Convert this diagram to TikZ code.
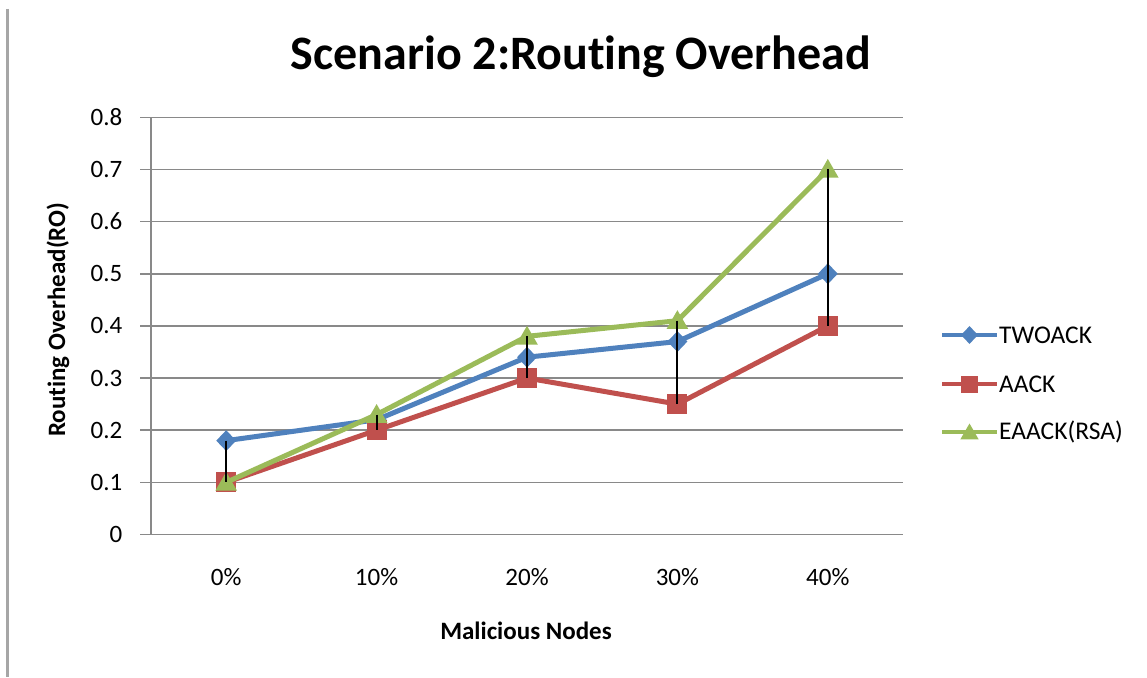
\documentclass[tikz,border=0pt]{standalone}
\usepackage{fontspec}
\setmainfont[RawFeature={-liga;-clig;-calt;-dlig}]{Carlito}
\usetikzlibrary{shapes.geometric}
\definecolor{sblue}{HTML}{4F81BD}
\definecolor{sred}{HTML}{C0504D}
\definecolor{sgreen}{HTML}{9BBB59}
\definecolor{gridgray}{HTML}{898989}
\definecolor{framegray}{HTML}{A6A6A6}
\tikzset{
  grid line/.style={draw=gridgray, line width=1.6pt},
  series/.style={line width=5pt, line join=round, line cap=round},
  dia/.style={shape=diamond, fill=sblue, minimum width=20pt, minimum height=21pt, inner sep=0pt},
  sq/.style={shape=rectangle, fill=sred, minimum size=20pt, inner sep=0pt},
  tri/.style={shape=regular polygon, regular polygon sides=3, fill=sgreen, minimum size=25pt, inner sep=0pt},
  ldia/.style={dia, minimum width=17pt, minimum height=18pt},
  lsq/.style={sq, minimum size=17pt},
  ltri/.style={tri, minimum size=21pt},
  hilo/.style={draw=black, line width=2pt},
  ticklab/.style={font=\fontsize{25}{30}\selectfont, text=black, inner sep=0pt},
  axlab/.style={font=\fontsize{25}{30}\selectfont\bfseries, text=black, inner sep=0pt},
  legtext/.style={font=\fontsize{25.5}{30}\selectfont, text=black, inner sep=0pt, anchor=west},
}
\begin{document}
\begin{tikzpicture}[x=1pt,y=-1pt]
\useasboundingbox[fill=white] (0,0) rectangle (1147,677);
% left frame line
\draw[draw=framegray, line width=2.5pt] (7.5,9) -- (7.5,677);
% title
\node[font=\fontsize{48}{56}\selectfont\bfseries, inner sep=0pt] (title) at (581,57) {Scenario 2:Rout\kern0pt ing Overhead};
% gridlines and y labels
\foreach \v/\lab in {0/0,1/0.1,2/0.2,3/0.3,4/0.4,5/0.5,6/0.6,7/0.7,8/0.8}{
  \draw[grid line] (140,{534.5-52.15*\v}) -- (903,{534.5-52.15*\v});
  \node[ticklab, anchor=east] (yl\v) at (122.5,{534.5-52.15*\v}) {\lab};
}
% y axis
\draw[grid line] (151,{534.5-52.15*8}) -- (151,534.5);
% x labels
\foreach \i/\lab in {0/0\%,1/10\%,2/20\%,3/30\%,4/40\%}{
  \node[ticklab] (xl\i) at ({226.2+150.4*\i},577) {\lab};
}
\node[axlab] (xtitle) at (526,631) {Malicious Nodes};
\node[axlab, rotate=90] (ytitle) at (58,320) {Rout\kern0pt ing Overhead(RO)};
% data coordinates
\foreach \i/\a/\b/\c in {0/0.18/0.1/0.1, 1/0.22/0.2/0.23, 2/0.34/0.3/0.38, 3/0.37/0.25/0.41, 4/0.5/0.4/0.7}{
  \coordinate (t\i) at ({226.2+150.4*\i},{534.5-521.5*\a});
  \coordinate (a\i) at ({226.2+150.4*\i},{534.5-521.5*\b});
  \coordinate (e\i) at ({226.2+150.4*\i},{534.5-521.5*\c});
}
% TWOACK
\draw[series, sblue] (t0) -- (t1) -- (t2) -- (t3) -- (t4);
\foreach \i in {0,...,4}{ \node[dia] (mt\i) at (t\i) {}; }
% AACK
\draw[series, sred] (a0) -- (a1) -- (a2) -- (a3) -- (a4);
\foreach \i in {0,...,4}{ \node[sq] (ma\i) at (a\i) {}; }
% EAACK(RSA)
\draw[series, sgreen] (e0) -- (e1) -- (e2) -- (e3) -- (e4);
\foreach \i in {0,...,4}{ \node[tri, yshift=-2pt] (me\i) at (e\i) {}; }
% high-low lines
\draw[hilo] (t0) -- (a0);
\draw[hilo] (e1) -- (a1);
\draw[hilo] (e2) -- (a2);
\draw[hilo] (e3) -- (a3);
\draw[hilo] (e4) -- (a4);
% legend
\coordinate (l1a) at (942,335); \coordinate (l1b) at (997,335);
\coordinate (l2a) at (942,384); \coordinate (l2b) at (997,384);
\coordinate (l3a) at (942,432); \coordinate (l3b) at (997,432);
\draw[sblue, line width=4.5pt] (l1a) -- (l1b);
\node[ldia] (lm1) at (969.5,335) {};
\draw[sred, line width=4.5pt] (l2a) -- (l2b);
\node[lsq] (lm2) at (969.5,384) {};
\draw[sgreen, line width=4.5pt] (l3a) -- (l3b);
\node[ltri, yshift=-2pt] (lm3) at (969.5,432) {};
\node[legtext] (lt1) at (999,335) {TWOACK};
\node[legtext] (lt2) at (999,384) {AACK};
\node[legtext] (lt3) at (999,432) {EAACK(RSA)};
\end{tikzpicture}
\end{document}
